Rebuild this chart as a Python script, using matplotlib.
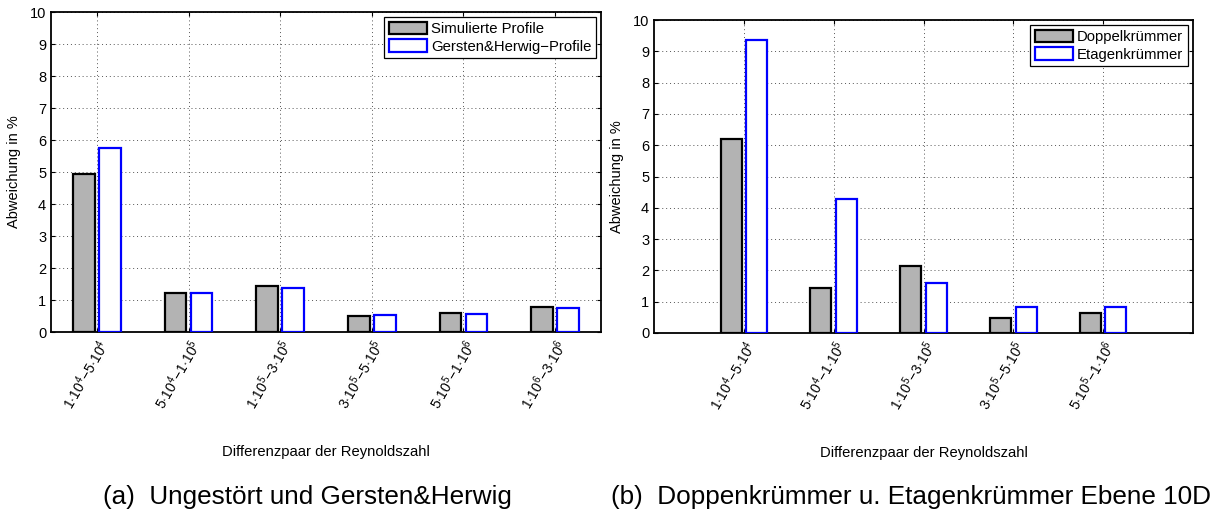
import numpy as np
import matplotlib
matplotlib.use('Agg')
import matplotlib.pyplot as plt
from matplotlib.patches import Patch

plt.rcParams['font.family'] = ['Liberation Sans', 'DejaVu Sans']
plt.rcParams['mathtext.fontset'] = 'custom'
plt.rcParams['mathtext.rm'] = 'Liberation Sans'
plt.rcParams['mathtext.it'] = 'Liberation Sans:italic'

# Reynolds-Differenzpaare
paare_a = [r'$1{\cdot}10^4\!-\!5{\cdot}10^4$', r'$5{\cdot}10^4\!-\!1{\cdot}10^5$',
           r'$1{\cdot}10^5\!-\!3{\cdot}10^5$', r'$3{\cdot}10^5\!-\!5{\cdot}10^5$',
           r'$5{\cdot}10^5\!-\!1{\cdot}10^6$', r'$1{\cdot}10^6\!-\!3{\cdot}10^6$']
paare_b = paare_a[:5]

# Abweichungen in %
simuliert = [4.95, 1.23, 1.45, 0.51, 0.60, 0.78]
gersten_herwig = [5.76, 1.23, 1.37, 0.53, 0.56, 0.76]
doppelkruemmer = [6.19, 1.44, 2.14, 0.49, 0.63]
etagenkruemmer = [9.35, 4.28, 1.59, 0.84, 0.84]

GRAU = '#b3b3b3'
BLAU = '#0000ff'

fig = plt.figure(figsize=(12.18, 5.12), dpi=100)
W, H = 1218, 512


def balken(ax, labels, werte1, werte2, namen, xlim):
    x = np.arange(1, len(labels) + 1)
    b = 0.235
    d = 0.142
    ax.bar(x - d, werte1, b, color=GRAU, edgecolor='k', linewidth=1.6, zorder=3)
    ax.bar(x + d, werte2, b, color='white', edgecolor=BLAU, linewidth=1.6, zorder=3)
    ax.set_xlim(*xlim)
    ax.set_ylim(0, 10)
    ax.set_yticks(range(0, 11))
    ax.set_xticks(x)
    ax.set_xticklabels(labels, rotation=60, ha='right', va='top',
                       rotation_mode='anchor', fontsize=10)
    ax.tick_params(axis='y', labelsize=10.5)
    ax.tick_params(direction='in', top=True, right=True, length=3, width=0.8)
    ax.grid(True, linestyle=(0, (1, 3)), color='#555555', linewidth=0.7, zorder=0)
    ax.set_axisbelow(True)
    for s in ax.spines.values():
        s.set_linewidth(1.3)
    ax.set_ylabel('Abweichung in %', fontsize=10.5, labelpad=6)
    ax.set_xlabel('Differenzpaar der Reynoldszahl', fontsize=10.6, labelpad=24)
    handles = [Patch(facecolor=GRAU, edgecolor='k', linewidth=1.6),
               Patch(facecolor='white', edgecolor=BLAU, linewidth=1.6)]
    leg = ax.legend(handles, namen, loc='upper right', fontsize=10.7, fancybox=False,
                    edgecolor='k', framealpha=1, borderpad=0.3, handlelength=2.6,
                    handleheight=0.95, handletextpad=0.25, labelspacing=0.2,
                    borderaxespad=0.35)
    leg.get_frame().set_linewidth(0.9)


ax1 = fig.add_axes([51 / W, (H - 332) / H, 550 / W, 320 / H])
balken(ax1, paare_a, simuliert, gersten_herwig,
       ['Simulierte Profile', 'Gersten&Herwig\u2212Profile'], (0.5, 6.5))

ax2 = fig.add_axes([654 / W, (H - 333) / H, 539 / W, 313 / H])
balken(ax2, paare_b, doppelkruemmer, etagenkruemmer,
       ['Doppelkrümmer', 'Etagenkrümmer'], (0, 6))

fig.text(307 / W, 1 - 497 / H, '(a)  Ungestört und Gersten&Herwig',
         ha='center', va='center', fontsize=18.8)
fig.text(911 / W, 1 - 497 / H, '(b)  Doppenkrümmer u. Etagenkrümmer Ebene 10D',
         ha='center', va='center', fontsize=18.8)

fig.savefig('out.png', dpi=100)
